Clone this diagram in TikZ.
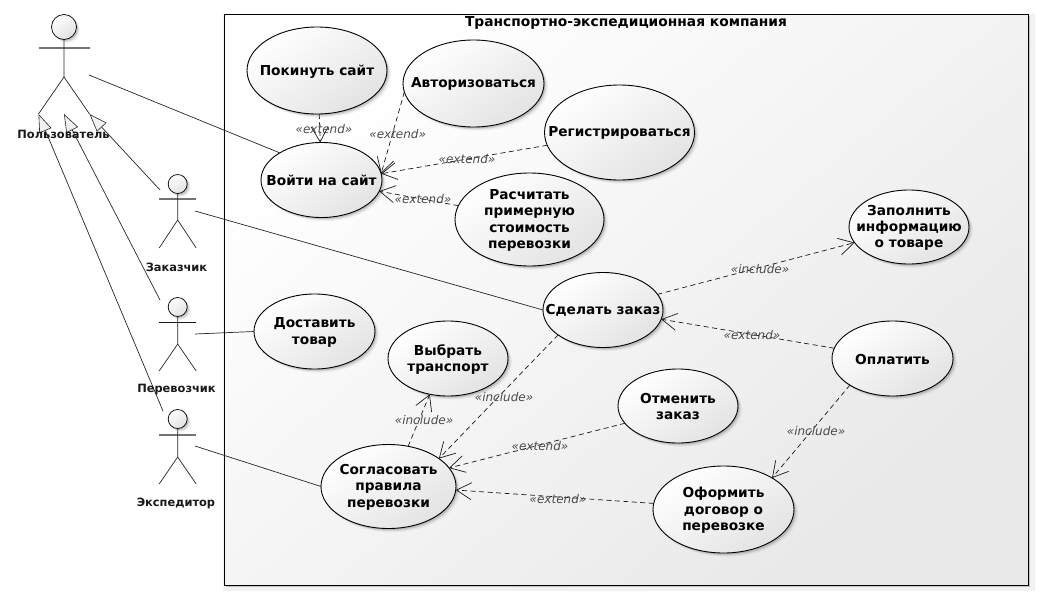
\documentclass[tikz,border=0pt]{standalone}
\usepackage{fontspec}
\setmainfont{DejaVu Sans}
\usetikzlibrary{shapes.geometric,arrows.meta,shadows}
\tikzset{
  softshadow/.style={
    drop shadow={shadow xshift=3.2pt,shadow yshift=-3.2pt,opacity=.05,fill=black,shadow scale=1.01},
    drop shadow={shadow xshift=2.4pt,shadow yshift=-2.4pt,opacity=.08,fill=black,shadow scale=1},
    drop shadow={shadow xshift=1.5pt,shadow yshift=-1.5pt,opacity=.12,fill=black,shadow scale=1}},
  usecase/.style={ellipse,draw=black,line width=.9pt,inner sep=0pt,outer sep=0pt,softshadow,
    shading=axis,top color=white,middle color=white,bottom color=black!11,shading angle=35},
  uctext/.style={align=center,font=\fontsize{13.7}{16.3}\selectfont\bfseries,text=black,yshift=-.8pt},
  system/.style={rectangle,draw=black,line width=1pt,inner sep=0pt,outer sep=0pt,softshadow,
    shading=axis,top color=white,bottom color=black!9,shading angle=40},
  systitle/.style={font=\fontsize{13.8}{16}\selectfont\bfseries,inner sep=0pt},
  actorlabel/.style={font=\fontsize{11.4}{14}\selectfont\bfseries,inner sep=0pt,text=black!90},
  actorline/.style={line width=.7pt,draw=black!85},
  armline/.style={line width=1.1pt,draw=black!55},
  armthin/.style={line width=.7pt,draw=black!90},
  acthead/.style={circle,draw=black,line width=.7pt,inner sep=0pt,outer sep=0pt,softshadow,
    shading=axis,top color=white,bottom color=black!12,shading angle=35},
  assoc/.style={line width=.7pt,draw=black!85},
  gener/.style={line width=.7pt,draw=black!85,-{Triangle[open,length=18pt,width=13pt,fill=black!5,line width=.6pt]}},
  dep/.style={line width=.7pt,draw=black!90,dash pattern=on 5pt off 3.5pt,
    -{Straight Barb[length=15pt,width=17pt,line width=.7pt]}},
  stereo/.style={font=\fontsize{12}{14}\selectfont\itshape,inner sep=0pt,text=black!70},
}
% name, x, head y, head radius, arms y, half span, hip y, foot y, arm style
\newcommand{\drawactor}[9]{%
  \node[acthead,minimum size=#4*2pt] (#1head) at (#2,#3) {};
  \coordinate (#1armL) at ({#2-#6},#5);
  \coordinate (#1armR) at ({#2+#6},#5);
  \coordinate (#1hip) at (#2,#7);
  \coordinate (#1footL) at ({#2-#6},#8);
  \coordinate (#1footR) at ({#2+#6},#8);
  \draw[#9] (#1armL) -- (#1armR);
  \draw[actorline] (#1head.south) -- (#1hip) -- (#1footL);
  \draw[actorline] (#1hip) -- (#1footR);
}
\begin{document}
\begin{tikzpicture}[x=1pt,y=-1pt]
\useasboundingbox (0,0) rectangle (1042,600);
\fill[white] (0,0) rectangle (1042,600);

\node[system,minimum width=804pt,minimum height=571pt] (sys) at (626,299.5) {};
\node[systitle] (systitle) at (626,23) {Транспортно-экспедиционная компания};

% actors
\drawactor{pol}{64}{27}{12.5}{48}{25.5}{77}{114}{armline}
\drawactor{zak}{177.7}{184}{9.5}{199}{18.5}{220}{248}{armline}
\drawactor{per}{177.7}{307}{9.5}{322}{18.5}{344}{371}{armthin}
\drawactor{exs}{177.7}{419}{9.5}{435}{18.5}{457}{484}{armline}

% use cases
\node[usecase,minimum width=140pt,minimum height=87pt,label={[uctext]center:Покинуть сайт}] (pok) at (317,70.5) {};
\node[usecase,minimum width=141pt,minimum height=87pt,label={[uctext]center:Авторизоваться}] (avt) at (473.5,83.5) {};
\node[usecase,minimum width=150pt,minimum height=95pt,label={[uctext]center:Регистрироваться}] (reg) at (619.5,132.5) {};
\node[usecase,minimum width=121pt,minimum height=75pt,label={[uctext]center:Войти на сайт}] (voi) at (321.5,180) {};
\node[usecase,minimum width=149pt,minimum height=93pt,label={[uctext]center:Расчитать\\примерную\\стоимость\\перевозки}] (ras) at (529.5,219.5) {};
\node[usecase,minimum width=120pt,minimum height=74pt,label={[uctext]center:Заполнить\\информацию\\о товаре}] (zap) at (909,227) {};
\node[usecase,minimum width=120pt,minimum height=75pt,label={[uctext]center:Сделать заказ}] (sde) at (603,310) {};
\node[usecase,minimum width=121pt,minimum height=75pt,label={[uctext]center:Оплатить}] (opl) at (892.5,358.5) {};
\node[usecase,minimum width=121pt,minimum height=75pt,label={[uctext]center:Доставить\\товар}] (dos) at (314.5,331.5) {};
\node[usecase,minimum width=120pt,minimum height=75pt,label={[uctext]center:Выбрать\\транспорт}] (vyb) at (448,358.5) {};
\node[usecase,minimum width=120pt,minimum height=74pt,label={[uctext]center:Отменить\\заказ}] (otm) at (678,406) {};
\node[usecase,minimum width=135pt,minimum height=84pt,label={[uctext]center:Согласовать\\правила\\перевозки}] (sog) at (388.5,486.5) {};
\node[usecase,minimum width=141pt,minimum height=87pt,label={[uctext]center:Оформить\\договор о\\перевозке}] (ofo) at (723.5,509.5) {};

% free ends at the actors
\coordinate (polA) at (89,75);
\coordinate (zakA) at (195,211);
\coordinate (perA) at (195,334);
\coordinate (exsA) at (195,446);
\coordinate (zakG) at (160,190);
\coordinate (perG) at (160,300);
\coordinate (exsG) at (163,411);

% associations
\draw[assoc] (polA) -- (voi.147.6);
\draw[assoc] (zakA) -- (sde.180);
\draw[assoc] (perA) -- (dos.180);
\draw[assoc] (exsA) -- (sog.180);

% generalizations
\draw[gener] (zakG) -- (polfootR);
\draw[gener] (perG) -- (polhip |- polfootR);
\draw[gener] (exsG) -- (polfootL);

% dependencies
\draw[dep] (pok.-87.4) -- (voi.92);
\draw[dep] (avt.187.9) -- (voi.6.7);
\draw[dep] (reg.190.3) -- (voi.6.7);
\draw[dep] (ras.169) -- (voi.-11.5);
\draw[dep] (sde.16.2) -- (zap.196.3);
\draw[dep] (opl.170) -- (sde.-9.8);
\draw[dep] (opl.212.6) -- (ofo.33.8);
\draw[dep] (sde.209.6) -- (sog.29);
\draw[dep] (sog.64.8) -- (vyb.243);
\draw[dep] (otm.198) -- (sog.17.9);
\draw[dep] (ofo.175.5) -- (sog.-3.9);

% stereotypes
\node[stereo] (s1) at (324,129) {«extend»};
\node[stereo] (s2) at (397.7,134) {«extend»};
\node[stereo] (s3) at (467,159) {«extend»};
\node[stereo] (s4) at (423,199) {«extend»};
\node[stereo] (s5) at (760,269) {«include»};
\node[stereo] (s6) at (752,335) {«extend»};
\node[stereo] (s7) at (816,431) {«include»};
\node[stereo] (s8) at (504,397) {«include»};
\node[stereo] (s9) at (424,420) {«include»};
\node[stereo] (s10) at (540,446) {«extend»};
\node[stereo] (s11) at (558,499) {«extend»};

% actor labels
\node[actorlabel] (polL) at (63.5,134) {Пользователь};
\node[actorlabel] (zakL) at (176.5,267) {Заказчик};
\node[actorlabel] (perL) at (176.5,390) {Перевозчик};
\node[actorlabel] (exsL) at (176,503) {Экспедитор};
\end{tikzpicture}
\end{document}
